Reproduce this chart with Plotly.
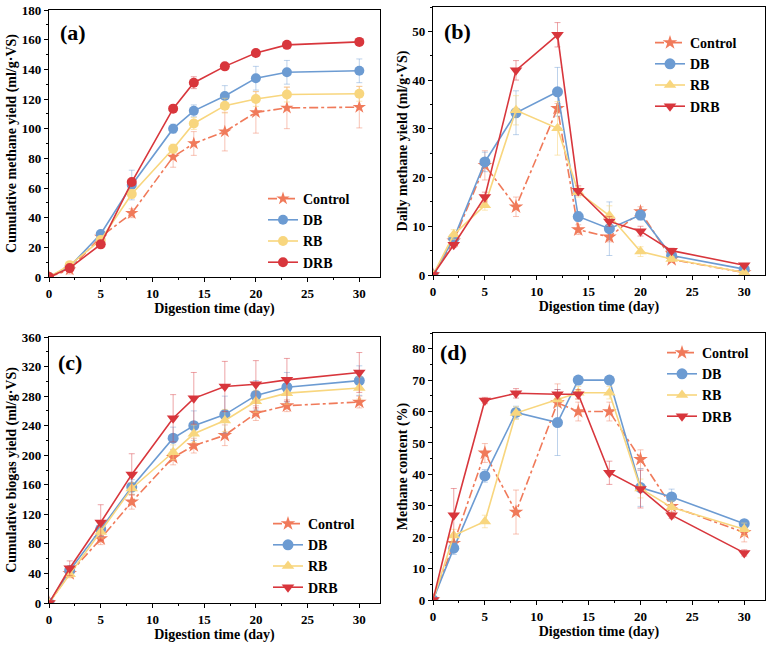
import plotly.graph_objects as go

days = [0, 2, 5, 8, 12, 14, 17, 20, 23, 30]
series = ["Control", "DB", "RB", "DRB"]

# (a) cumulative methane yield
a_control = [0, 5, 27, 43, 81, 90, 98, 111, 114, 114.5]
a_db = [0, 7, 29, 62, 100, 112, 122, 134, 138, 139]
a_rb = [0, 8, 25, 56, 86.5, 103.5, 115.5, 120, 123, 123.5]
a_drb = [0, 6, 22, 64, 113.5, 131, 142, 151, 156.5, 158.5]
a_control_err = [0, 3, 3, 3, 7, 8, 13, 14, 14, 14]
a_db_err = [0, 1, 2, 10, 3, 4, 7, 8, 8, 8]
a_rb_err = [0, 1, 1, 3, 3, 4, 5, 5, 5, 5]
a_drb_err = [0, 1, 1, 1, 1.5, 4, 1, 1, 1, 1]

# (b) daily methane yield
b_control = [0, 7, 22.5, 14, 34.2, 9.3, 7.8, 13, 3.2, 0.5]
b_db = [0, 7.5, 23.2, 33.3, 37.6, 12, 9.5, 12.3, 4, 1.2]
b_rb = [0, 8.3, 14.3, 33.8, 30.1, 17, 12.2, 4.8, 3.3, 0.5]
b_drb = [0, 6.2, 16, 42, 49.3, 17.3, 11, 9, 5, 2]
b_control_err = [0, 1, 3, 2, 1, 1, 1, 1, 0.5, 0.3]
b_db_err = [0, 1, 2, 4.5, 5, 1, 5.5, 1, 0.5, 0.3]
b_rb_err = [0, 1, 1, 3, 5.5, 1, 2, 1, 0.5, 0.3]
b_drb_err = [0, 0.5, 1, 2, 2.5, 1, 1, 1, 0.5, 0.3]

# (c) cumulative biogas yield
c_control = [0, 40, 87, 137, 197, 213, 227, 257, 267, 272]
c_db = [0, 44, 100, 157, 223, 240, 255, 281, 292, 301]
c_rb = [0, 39, 96, 155, 204, 229, 247, 273, 284, 291]
c_drb = [0, 47, 109, 174, 250, 277, 293, 296, 302, 312]
c_control_err = [0, 5, 8, 10, 10, 10, 14, 10, 8, 8]
c_db_err = [0, 5, 10, 10, 15, 20, 25, 20, 20, 20]
c_rb_err = [0, 5, 8, 8, 10, 12, 15, 15, 15, 15]
c_drb_err = [0, 10, 24, 28, 32, 35, 34, 32, 29, 27]

# (d) methane content
d_control = [0, 18, 46.8, 28, 62.8, 60, 60, 44.8, 29.8, 21.5]
d_db = [0, 16.5, 39.5, 59.7, 56.5, 70, 70, 35.8, 32.8, 24.3]
d_rb = [0, 20.5, 25, 59.5, 63.8, 66, 66, 35.5, 29.5, 22.5]
d_drb = [0, 27, 63.5, 65.8, 65.5, 65.5, 40.5, 35.3, 27, 15]
d_control_err = [0, 2, 3, 7, 6, 3, 3, 3, 2, 3]
d_db_err = [0, 2, 2, 2, 10.5, 1, 1, 6, 2.5, 1]
d_rb_err = [0, 2, 2, 2, 2, 2, 2, 3, 2, 2]
d_drb_err = [0, 8.5, 1, 1.5, 1.5, 1.5, 3.7, 6, 1, 1]

panel_labels = ["(a)", "(b)", "(c)", "(d)"]
y_titles = ["Cumulative methane yield (ml/g·VS)", "Daily methane yield (ml/g·VS)",
            "Cumulative biogas yield (ml/g·VS)", "Methane content (%)"]
x_title = "Digestion time (day)"

colors = {"Control": "#F07A5A", "DB": "#6C9BD2", "RB": "#F8D67E", "DRB": "#D8363C"}
err_colors = {"Control": "rgba(240,122,90,0.45)", "DB": "rgba(108,155,210,0.45)",
              "RB": "rgba(248,214,126,0.55)", "DRB": "rgba(216,54,60,0.45)"}
dashes = {"Control": "dashdot", "DB": "solid", "RB": "solid", "DRB": "solid"}

panels = [
    ([a_control, a_db, a_rb, a_drb], [a_control_err, a_db_err, a_rb_err, a_drb_err],
     ["star", "circle", "circle", "circle"], [10, 10, 10, 10]),
    ([b_control, b_db, b_rb, b_drb], [b_control_err, b_db_err, b_rb_err, b_drb_err],
     ["star", "circle", "triangle-up", "triangle-down"], [11, 11, 11, 11]),
    ([c_control, c_db, c_rb, c_drb], [c_control_err, c_db_err, c_rb_err, c_drb_err],
     ["star", "circle", "triangle-up", "triangle-down"], [11, 11, 11, 11]),
    ([d_control, d_db, d_rb, d_drb], [d_control_err, d_db_err, d_rb_err, d_drb_err],
     ["star", "circle", "triangle-up", "triangle-down"], [11, 11, 11, 11]),
]

W, H = 774, 645
def px(v):
    return min(1.0, max(0.0, v / W))
def py(v):
    return min(1.0, max(0.0, 1 - v / H))

xdomains = [[px(49), px(380)], [px(433), px(765)], [px(49), px(380)], [px(433), px(765)]]
ydomains = [[py(277), py(10)], [py(275), py(7)], [py(603), py(337)], [py(600), py(333)]]
yranges = [[0, 180], [0, 55], [0, 360], [0, 85]]
ydticks = [20, 10, 40, 10]
label_pos = [(73, 33), (457, 31), (70, 362), (453, 353)]
legend_pos = [(263, 183), (650, 27), (268, 508), (662, 337)]

font_family = "Liberation Serif"
fig = go.Figure()

for p, (vals, errs, symbols, sizes) in enumerate(panels):
    suffix = "" if p == 0 else str(p + 1)
    for i, s in enumerate(series):
        fig.add_trace(go.Scatter(
            x=days, y=vals[i], name=s, mode="lines+markers",
            line=dict(color=colors[s], width=1.6, dash=dashes[s]),
            marker=dict(symbol=symbols[i], size=sizes[i], color=colors[s]),
            error_y=dict(type="data", array=errs[i], color=err_colors[s], thickness=1, width=3),
            xaxis="x" + suffix, yaxis="y" + suffix, legend="legend" + suffix,
        ))
    axis_common = dict(showline=True, linecolor="black", linewidth=1.2, mirror=True,
                       showgrid=False, zeroline=False, ticks="outside", ticklen=4,
                       tickcolor="black", tickwidth=1.2, automargin=True,
                       ticklabeloverflow="allow",
                       tickfont=dict(family=font_family, size=13, color="black", weight="bold"))
    fig.update_layout(**{
        "xaxis" + suffix: dict(
            domain=xdomains[p], range=[0, 32], dtick=5, tick0=0,
            anchor="y" + suffix,
            minor=dict(dtick=2.5, ticks="outside", ticklen=2, tickcolor="black"),
            title=dict(text=x_title, standoff=2,
                       font=dict(family=font_family, size=14, color="black", weight="bold")),
            **axis_common),
        "yaxis" + suffix: dict(
            domain=ydomains[p], range=yranges[p], dtick=ydticks[p], tick0=0,
            anchor="x" + suffix,
            minor=dict(dtick=ydticks[p] / 2, ticks="outside", ticklen=2, tickcolor="black"),
            title=dict(text=y_titles[p], standoff=1,
                       font=dict(family=font_family, size=14, color="black", weight="bold")),
            **axis_common),
        "legend" + suffix: dict(
            x=px(legend_pos[p][0]), y=py(legend_pos[p][1]), xanchor="left", yanchor="top",
            bgcolor="rgba(0,0,0,0)", tracegroupgap=0, itemwidth=30,
            font=dict(family=font_family, size=14, color="black", weight="bold")),
    })
    fig.add_annotation(
        text=panel_labels[p], x=px(label_pos[p][0]), y=py(label_pos[p][1]),
        xref="paper", yref="paper", xanchor="center", yanchor="middle", showarrow=False,
        font=dict(family=font_family, size=22, color="black", weight="bold"))

fig.update_layout(
    width=W, height=H, margin=dict(l=0, r=0, t=0, b=0, autoexpand=False),
    paper_bgcolor="white", plot_bgcolor="white", showlegend=True,
    font=dict(family=font_family, color="black"),
)

# remove the default 8px page margin so the 774x645 figure fills the window exactly
fig.write_html("out.html", config={"displayModeBar": False},
               post_script="document.body.style.margin='0px';")
